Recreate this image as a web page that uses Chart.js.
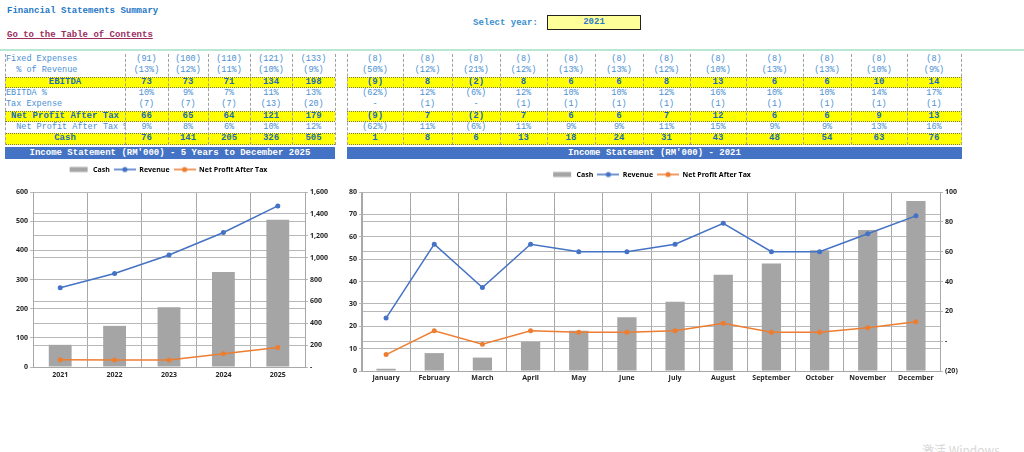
<!DOCTYPE html>
<html>
<head>
<meta charset="utf-8">
<script src="https://cdn.jsdelivr.net/npm/chart.js@4.4.1/dist/chart.umd.min.js"></script>
<style>
html,body{margin:0;padding:0;background:#fff;width:1024px;height:452px;overflow:hidden;position:relative;}
.t{position:absolute;white-space:pre;font-family:"Liberation Mono","DejaVu Sans Mono",monospace;}
.cell{position:absolute;box-sizing:border-box;font-family:"Liberation Mono","DejaVu Sans Mono",monospace;font-size:8.5px;text-align:center;color:#4a8fd4;white-space:pre;overflow:hidden;}
.vline{position:absolute;border-left:1px dashed #a0a0a0;width:0;}
.yrow{position:absolute;background:#ffff00;border-top:1px dotted #777;border-bottom:1px dotted #777;box-sizing:border-box;}
.hdr{position:absolute;background:#4472c4;color:#fff;font-family:"Liberation Mono",monospace;font-weight:bold;font-size:9px;text-align:center;line-height:12px;height:12px;}
canvas{position:absolute;}
</style>
</head>
<body>
<div class="t" style="left:7px;top:6px;font-size:9px;font-weight:bold;color:#1f78c8;">Financial Statements Summary</div>
<div class="t" style="left:7px;top:30px;font-size:9px;font-weight:bold;color:#9b2d5f;text-decoration:underline;">Go to the Table of Contents</div>
<div class="t" style="left:473px;top:18px;font-size:9px;font-weight:bold;color:#3a8fd0;">Select year:</div>
<div style="position:absolute;left:547px;top:15px;width:92px;height:13px;background:#ffff99;border:1.5px solid #222;font-family:'Liberation Mono',monospace;font-size:9px;font-weight:bold;color:#2a7ac8;text-align:center;line-height:13px;">2021</div>
<div style="position:absolute;left:0;top:49px;width:1024px;height:2px;background:#b8e8d4;"></div>
<div id="tbl"></div>
<div class="hdr" style="left:5px;top:147px;width:330px;">Income Statement (RM'000) - 5 Years to December 2025</div>
<div class="hdr" style="left:347px;top:147px;width:615px;">Income Statement (RM'000) - 2021</div>
<canvas id="c1" width="335" height="225" style="left:0;top:160px;width:335px;height:225px;"></canvas>
<canvas id="c2" width="622" height="225" style="left:340px;top:160px;width:622px;height:225px;"></canvas>
<div class="t" style="left:922px;top:441px;font-family:'Noto Sans CJK SC',sans-serif;font-size:12px;color:#d8d8d8;">激活 Windows</div>
<script>
// ---------- data ----------
const rowLabels = ["Fixed Expenses","  % of Revenue","EBITDA","EBITDA %","Tax Expense","Net Profit After Tax","  Net Profit After Tax %","Cash"];
const years = ["2021","2022","2023","2024","2025"];
const yFixed = ["(91)","(100)","(110)","(121)","(133)"];
const yFixedPct = ["(13%)","(12%)","(11%)","(10%)","(9%)"];
const yEbitda = ["73","73","71","134","198"];
const yEbitdaPct = ["10%","9%","7%","11%","13%"];
const yTax = ["(7)","(7)","(7)","(13)","(20)"];
const yNpat = ["66","65","64","121","179"];
const yNpatPct = ["9%","8%","6%","10%","12%"];
const yCash = ["76","141","205","326","505"];
const months = ["January","February","March","April","May","June","July","August","September","October","November","December"];
const mFixed = ["(8)","(8)","(8)","(8)","(8)","(8)","(8)","(8)","(8)","(8)","(8)","(8)"];
const mFixedPct = ["(50%)","(12%)","(21%)","(12%)","(13%)","(13%)","(12%)","(10%)","(13%)","(13%)","(10%)","(9%)"];
const mEbitda = ["(9)","8","(2)","8","6","6","8","13","6","6","10","14"];
const mEbitdaPct = ["(62%)","12%","(6%)","12%","10%","10%","12%","16%","10%","10%","14%","17%"];
const mTax = ["-","(1)","-","(1)","(1)","(1)","(1)","(1)","(1)","(1)","(1)","(1)"];
const mNpat = ["(9)","7","(2)","7","6","6","7","12","6","6","9","13"];
const mNpatPct = ["(62%)","11%","(6%)","11%","9%","9%","11%","15%","9%","9%","13%","16%"];
const mCash = ["1","8","6","13","18","24","31","43","48","54","63","76"];

// chart series
const yearCash = [76,141,205,326,505];
const yearRevenue = [724,855,1024,1230,1473];
const yearNpat = [66,65,64,121,179];
const monthCash = [1,8,6,13,18,24,31,43,48,54,63,76];
const monthRevenue = [15.5,65,36,65,60,60,65,79,60,60,72,84];
const monthNpat = [-9,7,-2,7,6,6,7,12,6,6,9,13];

// ---------- table ----------
const tbl = document.getElementById('tbl');
const rowTop = 54, rowH = 11.3;
const boldRows = [2,5,7];
const leftCols = [125,168,208,250,292,335];
const rightCols = [347,403,452,500,547,595,643,690,746,803,851,907,961];
const yearRows = [yFixed,yFixedPct,yEbitda,yEbitdaPct,yTax,yNpat,yNpatPct,yCash];
const monthRows = [mFixed,mFixedPct,mEbitda,mEbitdaPct,mTax,mNpat,mNpatPct,mCash];
function add(html){tbl.insertAdjacentHTML('beforeend',html);}
boldRows.forEach(r=>{
  const top = rowTop + r*rowH;
  add(`<div class="yrow" style="left:5px;top:${top}px;width:330px;height:${rowH+0.5}px;"></div>`);
  add(`<div class="yrow" style="left:347px;top:${top}px;width:615px;height:${rowH+0.5}px;"></div>`);
});
rowLabels.forEach((lab,r)=>{
  const top = rowTop + r*rowH;
  const b = boldRows.includes(r);
  let style = `top:${top}px;height:${rowH}px;line-height:${rowH}px;`;
  if (b) style += `left:5px;width:120px;text-align:center;font-weight:bold;color:#1a6cb8;font-size:9px;`;
  else style += `left:6px;width:120px;text-align:left;`;
  add(`<div class="cell" style="${style}">${lab}</div>`);
  yearRows[r].forEach((v,i)=>{
    add(`<div class="cell" style="left:${leftCols[i]}px;width:${leftCols[i+1]-leftCols[i]}px;top:${top}px;height:${rowH}px;line-height:${rowH}px;${b?'font-weight:bold;color:#1a6cb8;font-size:9px;':''}">${v}</div>`);
  });
  monthRows[r].forEach((v,i)=>{
    add(`<div class="cell" style="left:${rightCols[i]}px;width:${rightCols[i+1]-rightCols[i]}px;top:${top}px;height:${rowH}px;line-height:${rowH}px;${b?'font-weight:bold;color:#1a6cb8;font-size:9px;':''}">${v}</div>`);
  });
});
const tblH = rowH*8+1;
[5,...leftCols].forEach(x=>add(`<div class="vline" style="left:${x}px;top:${rowTop}px;height:${tblH}px;"></div>`));
[...rightCols].forEach(x=>add(`<div class="vline" style="left:${x}px;top:${rowTop}px;height:${tblH}px;"></div>`));

// ---------- charts ----------
function lineIcon(color){
  const c=document.createElement('canvas');c.width=22;c.height=8;
  const g=c.getContext('2d');g.strokeStyle=color;g.lineWidth=1.5;
  g.beginPath();g.moveTo(0,4);g.lineTo(22,4);g.stroke();
  g.fillStyle=color;g.beginPath();g.arc(11,4,2.6,0,Math.PI*2);g.fill();return c;
}
function barIcon(color){
  const c=document.createElement('canvas');c.width=22;c.height=8;
  const g=c.getContext('2d');g.fillStyle=color;g.fillRect(2,1.5,18,5);return c;
}
const GREY='#a5a5a5', BLUE='#4472c4', ORANGE='#ed7d31';
const icons=[barIcon(GREY),lineIcon(BLUE),lineIcon(ORANGE)];
const tickFont={family:"'Open Sans','Liberation Sans',sans-serif",size:7,weight:'bold'};
const gridC='#b8b8b8';

function makeChart(id, labels, cash, rev, npat, o){
  const legendGap={id:'legendGap',beforeInit(chart){const f=chart.legend.fit;chart.legend.fit=function(){f.call(this);this.height+=o.legendExtra;};}};
  return new Chart(document.getElementById(id),{
    data:{labels,datasets:[
      {type:'bar',label:'Cash',data:cash,backgroundColor:GREY,yAxisID:'y',order:3,barPercentage:o.barPct,categoryPercentage:1},
      {type:'line',label:'Revenue',data:rev,borderColor:BLUE,backgroundColor:BLUE,borderWidth:1.5,pointRadius:2.5,pointBackgroundColor:BLUE,pointBorderWidth:0,yAxisID:'y1',order:1,tension:0},
      {type:'line',label:'Net Profit After Tax',data:npat,borderColor:ORANGE,backgroundColor:ORANGE,borderWidth:1.5,pointRadius:2.5,pointBackgroundColor:ORANGE,pointBorderWidth:0,yAxisID:'y1',order:2,tension:0}
    ]},
    plugins:[legendGap],
    options:{
      responsive:false,animation:false,devicePixelRatio:1,
      layout:{padding:{top:o.padTop,left:0,right:0,bottom:0}},
      plugins:{tooltip:{enabled:false},legend:{position:'top',labels:{
        font:{family:"'Open Sans','Liberation Sans',sans-serif",size:7,weight:'bold'},color:'#404040',
        usePointStyle:true,pointStyleWidth:22,boxHeight:7,padding:4,
        generateLabels:(ch)=>ch.data.datasets.map((d,i)=>({text:d.label,pointStyle:icons[i],fillStyle:d.backgroundColor,strokeStyle:d.backgroundColor,lineWidth:0,datasetIndex:i,hidden:false}))
      }}},
      scales:{
        x:{grid:{color:'#a8a8a8',offset:true,drawTicks:false},border:{color:'#a8a8a8'},
          ticks:{font:tickFont,color:'#262626',padding:o.xPad,maxRotation:0,autoSkip:false},
          afterFit:(s)=>{s.height=o.xH;}},
        y:{position:'left',min:o.yMin,max:o.yMax,grid:{color:gridC,drawTicks:true,tickLength:3},border:{color:'#a8a8a8'},
          ticks:{stepSize:o.yStep,font:tickFont,color:'#262626',padding:2},afterFit:(s)=>{s.width=o.yW;}},
        y1:{position:'right',min:o.y1Min,max:o.y1Max,grid:{color:gridC,drawTicks:true,tickLength:3},border:{color:'#a8a8a8'},
          ticks:{stepSize:o.y1Step,font:tickFont,color:'#262626',padding:2,callback:o.y1Fmt},afterFit:(s)=>{s.width=o.y1W;}}
      }
    }
  });
}
makeChart('c1',years,yearCash,yearRevenue,yearNpat,{barPct:0.42,padTop:2,legendExtra:9,xPad:4,xH:18,yMin:0,yMax:600,yStep:100,yW:33,y1Min:0,y1Max:1600,y1Step:200,y1W:30,
  y1Fmt:(v)=>v===0?'-':v.toLocaleString('en-US')});
makeChart('c2',months,monthCash,monthRevenue,monthNpat,{barPct:0.4,padTop:7,legendExtra:4,xPad:3,xH:14,yMin:0,yMax:80,yStep:10,yW:22,y1Min:-20,y1Max:100,y1Step:20,y1W:22,
  y1Fmt:(v)=>v===0?'-':(v<0?'('+(-v)+')':String(v))});
</script>
</body>
</html>
